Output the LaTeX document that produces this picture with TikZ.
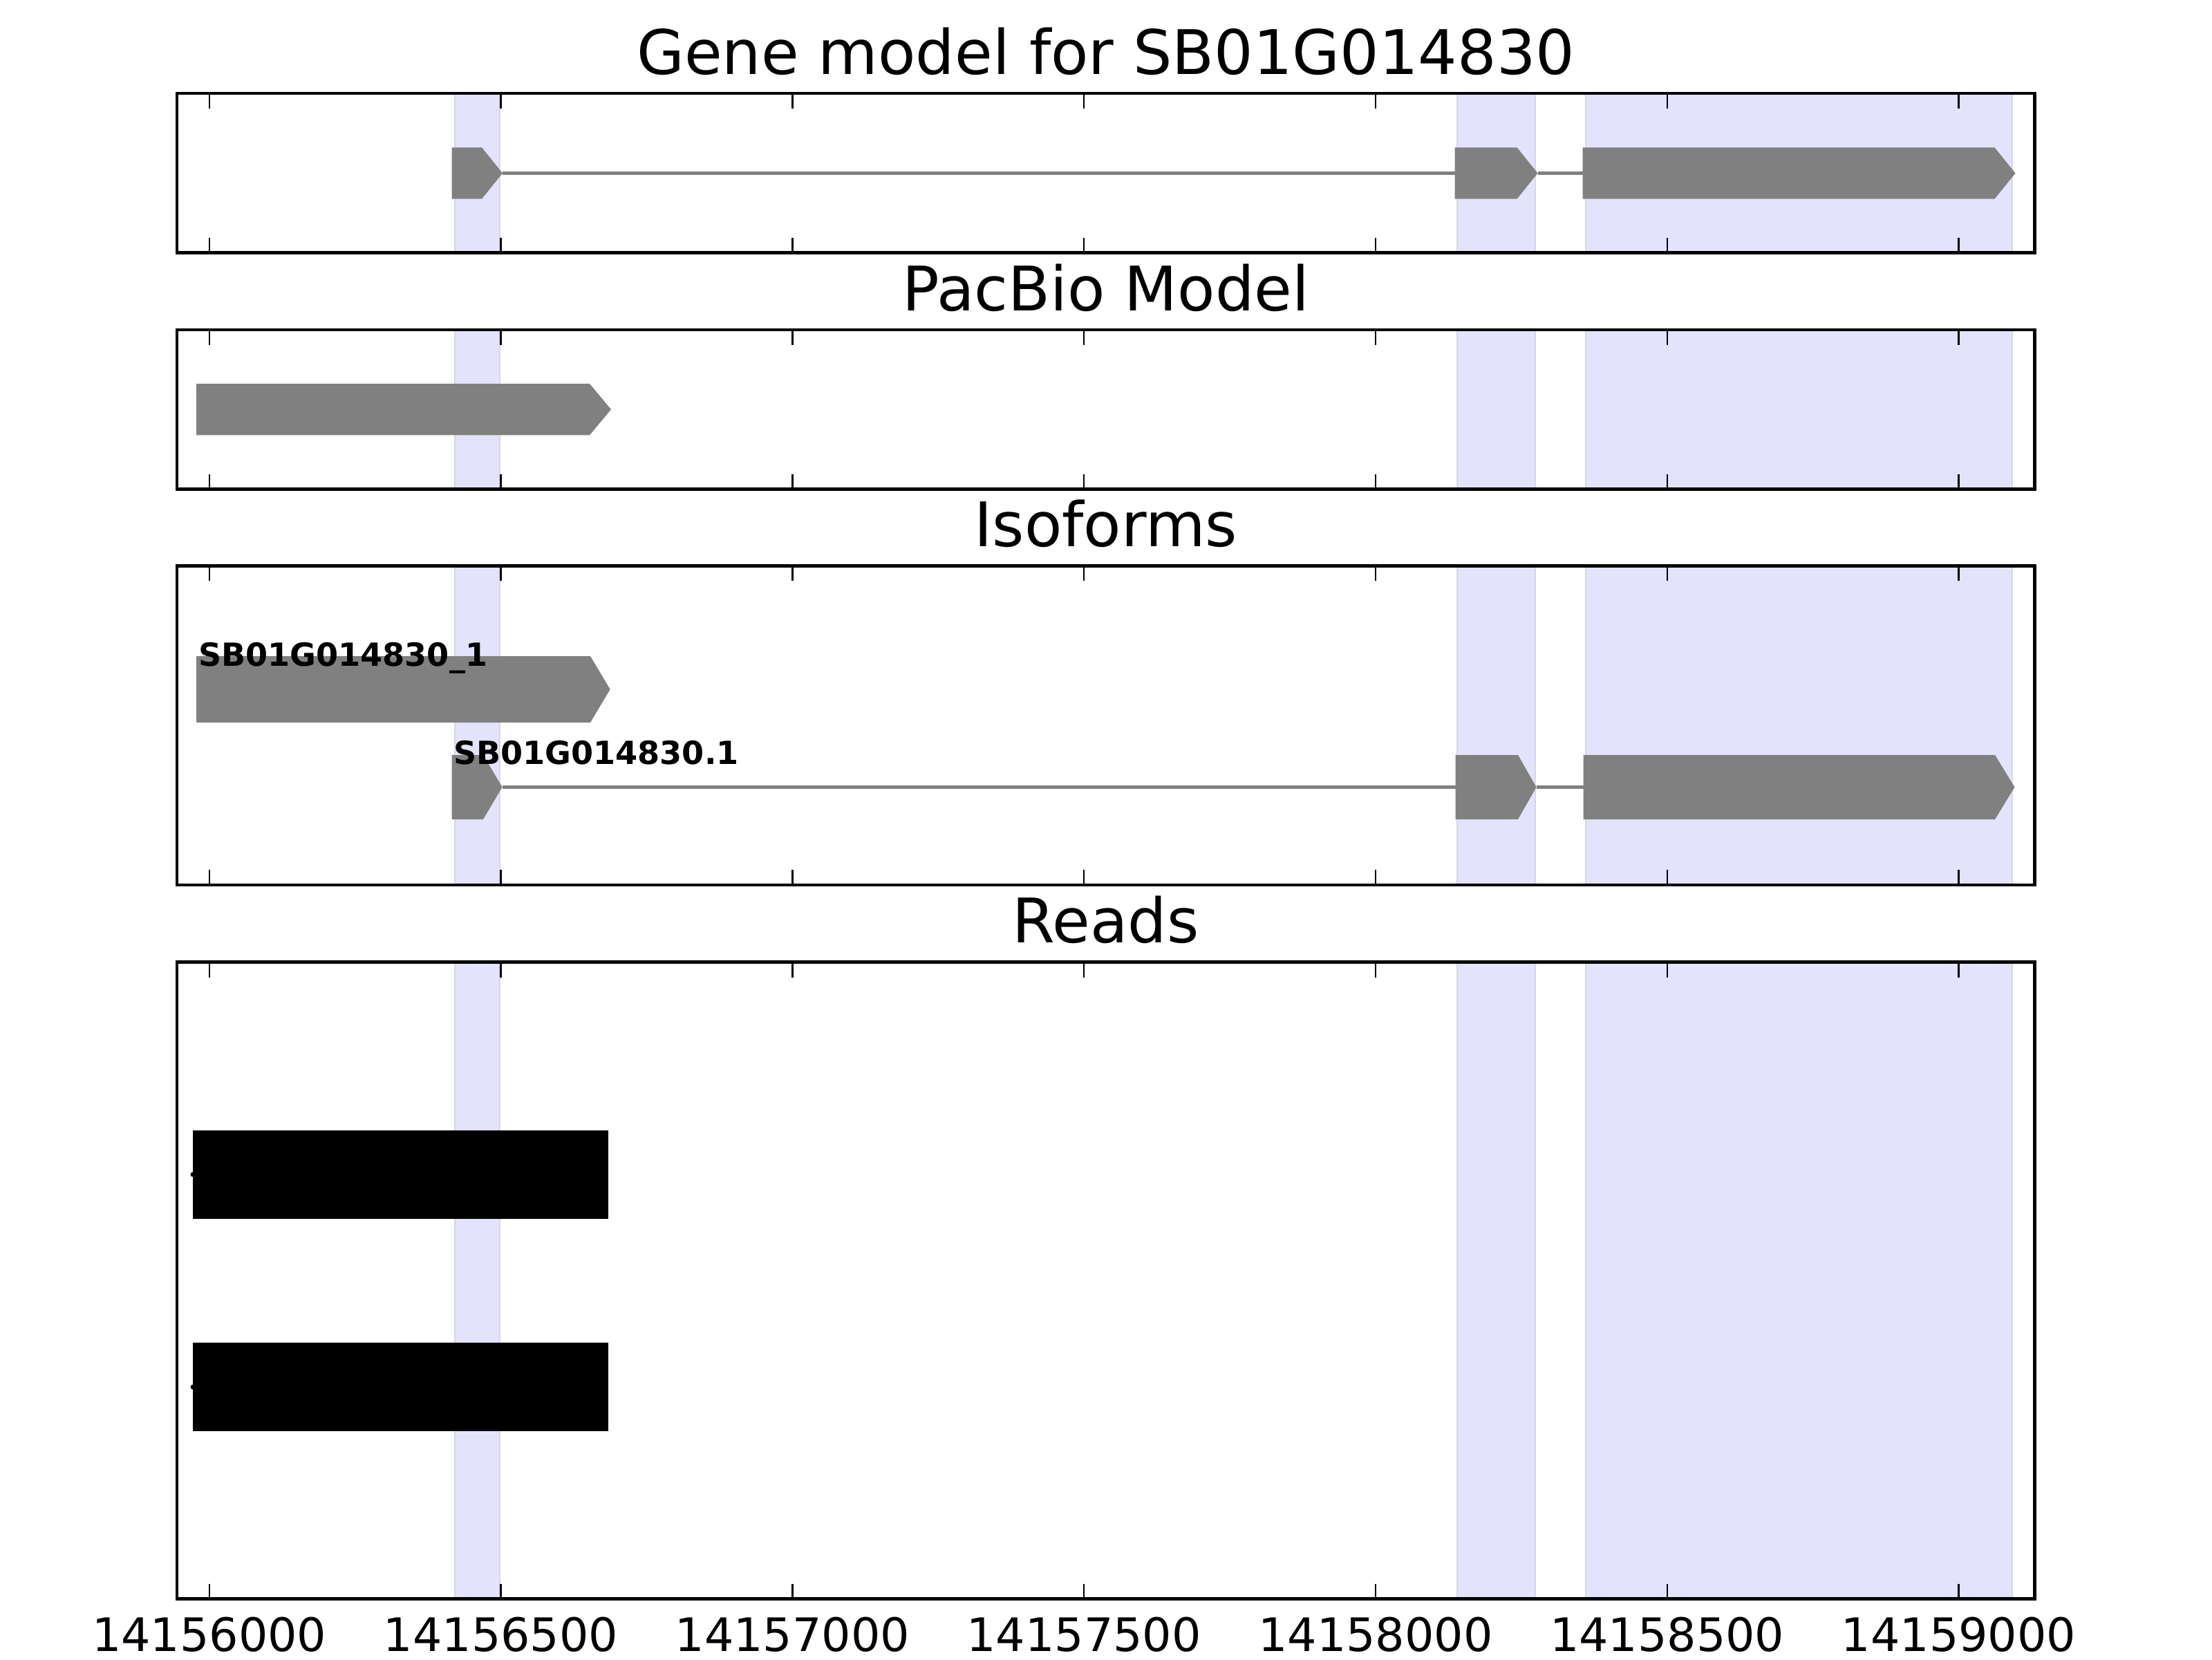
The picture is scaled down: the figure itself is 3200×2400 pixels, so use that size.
\documentclass[tikz,border=0pt]{standalone}
\usepackage{fontspec}
\setmainfont{DejaVu Sans}
\definecolor{shadefill}{RGB}{227,227,252}
\definecolor{shadeedge}{RGB}{214,214,230}
\definecolor{exongray}{RGB}{128,128,128}
\begin{document}
\begin{tikzpicture}[x=0.18pt,y=-0.18pt,
  spine/.style={line width=0.85pt,black},
  tickmark/.style={line width=0.45pt,black},
  band/.style={fill=shadefill},
  bandedge/.style={draw=shadeedge,line width=0.3pt},
  exon/.style={fill=exongray},
  intron/.style={draw=exongray,line width=0.9pt},
  readbar/.style={fill=black},
  titletext/.style={font=\fontsize{16}{19}\selectfont,inner sep=0pt,anchor=base},
  ticklabel/.style={font=\fontsize{12}{14}\selectfont,inner sep=0pt,anchor=base},
  isolabel/.style={font=\fontsize{8.3}{10}\selectfont\bfseries,inner sep=0pt,anchor=base west}]
\useasboundingbox[fill=white] (0,0) rectangle (3200,2400);

% shaded exon bands in every panel
\foreach \t/\b in {135/365.5, 477/707.5, 818.3/1280, 1391.7/2312.5}{
  \foreach \a/\c in {658/723, 2108/2221, 2294/2911}{
    \fill[band] (\a,\t) rectangle (\c,\b);
    \draw[bandedge] (\a,\t) -- (\a,\b);
    \draw[bandedge] (\c,\t) -- (\c,\b);
  }
}

% ---- Panel 1: gene model
\coordinate (g1e) at (727,250.5);
\coordinate (g2s) at (2104.5,250.5);
\coordinate (g2e) at (2224.5,250.5);
\coordinate (g3s) at (2289.5,250.5);
\draw[intron] (g1e) -- (g2s);
\draw[intron] (g2e) -- (g3s);
\fill[exon] (653.7,213.3) -- (697,213.3) -- (g1e) -- (697,287.7) -- (653.7,287.7) -- cycle;
\fill[exon] (g2s |- 0,213.3) -- (2194.5,213.3) -- (g2e) -- (2194.5,287.7) -- (g2s |- 0,287.7) -- cycle;
\fill[exon] (g3s |- 0,213.3) -- (2885.5,213.3) -- (2915.5,250.5) -- (2885.5,287.7) -- (g3s |- 0,287.7) -- cycle;

% ---- Panel 2: PacBio model
\fill[exon] (284,555) -- (853,555) -- (884,592.2) -- (853,629.3) -- (284,629.3) -- cycle;

% ---- Panel 3: isoforms
\fill[exon] (284,949) -- (854,949) -- (882.7,997) -- (854,1045) -- (284,1045) -- cycle;
\node[isolabel] (iso1) at (286,963) {SB01G014830\_1};
\coordinate (i1e) at (726.6,1138.5);
\coordinate (i2s) at (2105.5,1138.5);
\coordinate (i2e) at (2222.5,1138.5);
\coordinate (i3s) at (2290.5,1138.5);
\draw[intron] (i1e) -- (i2s);
\draw[intron] (i2e) -- (i3s);
\fill[exon] (653.7,1092) -- (699,1092) -- (i1e) -- (699,1185) -- (653.7,1185) -- cycle;
\fill[exon] (i2s |- 0,1092) -- (2196,1092) -- (i2e) -- (2196,1185) -- (i2s |- 0,1185) -- cycle;
\fill[exon] (i3s |- 0,1092) -- (2886,1092) -- (2914.5,1138.5) -- (2886,1185) -- (i3s |- 0,1185) -- cycle;
\node[isolabel] (iso2) at (655,1105) {SB01G014830.1};

% ---- Panel 4: reads
\fill[readbar] (279,1635) rectangle (880.4,1762.7);
\fill[readbar] (279,1942) rectangle (880.4,2070.3);
\fill[black] (279,1698.8) circle (3.5);
\fill[black] (279,2006.1) circle (3.5);

% ticks and frames
\foreach \t/\b in {135/365.5, 477/707.5, 818.3/1280, 1391.7/2312.5}{
  \foreach \k in {0,...,6}{
    \draw[tickmark] ({302.8+421.8*\k},\t) -- ++(0,22);
    \draw[tickmark] ({302.8+421.8*\k},\b) -- ++(0,-22);
  }
  \draw[spine] (256,\t) rectangle (2943.5,\b);
}

% titles
\node[titletext] (title1) at (1599.7,107) {Gene model for SB01G014830};
\node[titletext] (title2) at (1599.7,449) {PacBio Model};
\node[titletext] (title3) at (1599.7,790) {Isoforms};
\node[titletext] (title4) at (1599.7,1363) {Reads};

% tick labels
\foreach \k/\lab in {0/14156000,1/14156500,2/14157000,3/14157500,4/14158000,5/14158500,6/14159000}{
  \node[ticklabel] (tl\k) at ({302.8+421.8*\k},2388) {\lab};
}
\end{tikzpicture}
\end{document}
